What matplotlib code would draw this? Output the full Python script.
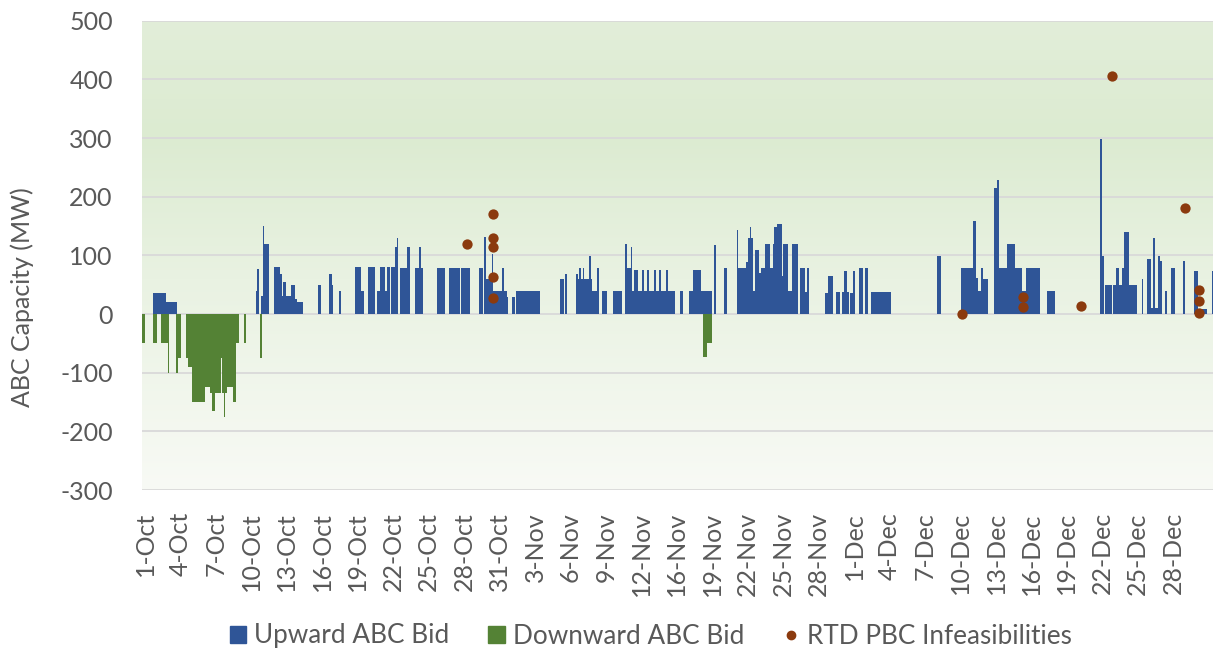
import matplotlib
matplotlib.use("Agg")
import matplotlib.pyplot as plt
from matplotlib.colors import LinearSegmentedColormap
from matplotlib.patches import Patch
from matplotlib.lines import Line2D
import numpy as np

# x is in days after 1-Oct (0 = 1-Oct)
tick_days = list(range(0, 90, 3))
tick_labels = ["1-Oct", "4-Oct", "7-Oct", "10-Oct", "13-Oct", "16-Oct", "19-Oct", "22-Oct",
               "25-Oct", "28-Oct", "31-Oct", "3-Nov", "6-Nov", "9-Nov", "12-Nov", "16-Nov",
               "19-Nov", "22-Nov", "25-Nov", "28-Nov", "1-Dec", "4-Dec", "7-Dec", "10-Dec",
               "13-Dec", "16-Dec", "19-Dec", "22-Dec", "25-Dec", "28-Dec"]

# upward ABC bids: start day, end day, MW
up_start = [0.65, 1.78, 9.36, 9.47, 9.84, 10.01, 10.09, 10.91, 11.42, 11.56, 11.70, 11.93, 12.32,
            12.69, 12.83, 14.66, 15.59, 15.80, 16.44, 17.77, 18.30, 18.84, 19.60, 19.88, 20.30,
            20.45, 20.78, 21.15, 21.29,
            21.57, 22.14, 22.84, 23.21, 23.33, 24.68, 25.72, 26.43, 26.73, 28.26, 28.65, 28.82,
            29.33, 29.47, 30.23, 30.35, 30.60, 31.02, 31.41, 35.11, 35.53, 36.44, 36.61, 36.75,
            36.86, 37.03, 37.14, 37.56, 37.71, 37.79, 38.21, 38.69, 39.62, 40.61, 40.75, 41.09,
            41.23, 41.40, 41.68, 42.07, 42.24, 42.50, 42.67, 43.06, 43.23, 43.51, 43.65, 44.05,
            44.22, 45.26, 46.05, 46.33, 47.04, 47.24, 48.17, 49.01,
            50.06, 50.20, 50.85, 51.02, 51.18, 51.29, 51.46, 51.58, 51.92, 52.09, 52.45, 52.88,
            53.10, 53.24, 53.49, 53.87, 54.00, 54.42, 54.71, 54.99, 55.41, 55.84, 56.03, 57.56,
            57.76, 58.43, 58.97, 59.14, 59.37, 59.64, 59.87, 60.43, 60.89, 61.39, 67.03,
            69.04, 70.08, 70.28, 70.50, 70.70, 70.87, 71.85, 72.05, 72.25, 72.90, 73.60, 73.69,
            74.20, 74.50, 76.34, 80.80, 81.00, 81.22, 81.87, 82.15, 82.38, 82.63, 82.85, 83.25,
            84.35, 84.80, 85.08, 85.25, 85.42, 85.70, 85.87, 86.29, 86.78, 87.84, 88.75, 89.06,
            90.25]
up_end = [1.78, 2.73, 9.47, 9.64, 10.01, 10.09, 10.46, 11.42, 11.56, 11.70, 11.93, 12.32, 12.69,
          12.83, 13.34, 14.89, 15.80, 15.88, 16.58, 18.30, 18.53, 19.48, 19.88, 20.30, 20.45,
          20.73, 21.15, 21.29, 21.43,
          22.14, 22.42, 23.21, 23.33, 23.55, 25.38, 26.37, 26.65, 27.50, 28.62, 28.82, 29.33,
          29.47, 30.23, 30.35, 30.60, 30.75, 31.30, 33.42, 35.45, 35.68, 36.61, 36.75, 36.86,
          37.03, 37.14, 37.56, 37.71, 37.79, 38.21, 38.38, 39.11, 40.33, 40.75, 41.09, 41.23,
          41.40, 41.68, 42.07, 42.24, 42.50, 42.67, 43.06, 43.23, 43.51, 43.65, 44.05, 44.22,
          44.84, 45.54, 46.33, 47.04, 47.24, 47.94, 48.31, 49.21,
          50.20, 50.85, 51.02, 51.18, 51.29, 51.46, 51.58, 51.92, 52.09, 52.45, 52.88, 53.10,
          53.24, 53.49, 53.87, 54.00, 54.42, 54.71, 54.99, 55.27, 55.84, 56.03, 56.20, 57.76,
          58.18, 58.80, 59.14, 59.37, 59.59, 59.87, 60.10, 60.77, 61.19, 63.09, 67.37,
          70.08, 70.28, 70.50, 70.70, 70.87, 71.29, 72.05, 72.25, 72.90, 73.60, 73.69, 74.20,
          74.50, 75.72, 77.01, 81.00, 81.13, 81.78, 82.15, 82.38, 82.63, 82.85, 83.25, 83.90,
          84.46, 85.08, 85.25, 85.42, 85.70, 85.87, 86.07, 86.49, 87.14, 88.01, 89.06, 89.82,
          90.36]
up_mw = [35, 21, 40, 76, 30, 150, 120, 80, 69, 30, 55, 30, 50,
         25, 21, 50, 69, 50, 40, 80, 40, 80, 40, 80, 40,
         80, 80, 114, 130,
         79, 114, 79, 114, 79, 79, 79, 79, 79, 79, 132, 60,
         103, 39, 79, 39, 29, 29, 39, 60, 68, 68, 60, 79,
         60, 79, 60, 99, 60, 39, 79, 39, 39, 120, 79, 114,
         39, 75, 39, 75, 39, 75, 39, 75, 39, 75, 39, 75,
         39, 39, 39, 75, 39, 39, 118, 79,
         144, 79, 89, 130, 149, 130, 40, 109, 70, 79, 119, 79,
         119, 149, 154, 65, 119, 40, 119, 119, 79, 38, 79, 35,
         64, 38, 38, 74, 38, 35, 74, 79, 79, 38, 99,
         79, 158, 61, 39, 79, 60, 215, 229, 79, 120, 79, 79,
         39, 79, 39, 298, 99, 50, 50, 79, 50, 79, 140, 50,
         60, 94, 10, 129, 10, 99, 91, 39, 79, 90, 74, 9,
         74]

# downward ABC bids
down_start = [-0.25, 0.65, 1.33, 1.92, 2.62, 2.80, 3.47, 3.66, 3.95, 5.08, 5.50, 5.67, 5.92,
              6.40, 6.51, 6.68, 6.80, 6.91, 7.42, 7.70, 8.38, 8.60, 9.73, 47.24, 47.52]
down_end = [0.00, 1.04, 1.92, 2.06, 2.80, 3.02, 3.66, 3.95, 5.08, 5.50, 5.67, 5.92, 6.40,
            6.51, 6.68, 6.80, 6.91, 7.42, 7.70, 7.98, 8.52, 8.67, 9.92, 47.52, 47.94]
down_mw = [-50, -50, -50, -100, -100, -75, -75, -90, -150, -125, -135, -165, -135,
           -75, -135, -175, -135, -125, -150, -50, -50, -75, -75, -73, -49]

# RTD PBC infeasibilities
infeas_day = [27.22, 29.41, 29.41, 29.41, 29.41, 29.41, 69.09, 74.25, 74.25, 79.16, 81.81,
              88.01, 89.14, 89.14, 89.14]
infeas_mw = [119, 170, 129, 115, 63, 27, 0, 29, 12, 13, 406, 180, 41, 22, 2]

text_col = "#595959"
plt.rcParams["font.family"] = ["Lato", "DejaVu Sans"]
plt.rcParams["axes.unicode_minus"] = False

W, H = 1213, 654
fig = plt.figure(figsize=(W / 100, H / 100), dpi=100)
ax = fig.add_axes([142 / W, 1 - 490 / H, (1213 - 142) / W, (490 - 20.7) / H])

# gradient background of the plot area
grad = LinearSegmentedColormap.from_list(
    "bg", [(0.0, "#f8faf5"), (0.45, "#e9f2e2"), (0.75, "#dcebd1"), (1.0, "#e2eed9")])
ax.imshow(np.linspace(0, 1, 256).reshape(-1, 1), cmap=grad, aspect="auto",
          extent=[0, 1, 0, 1], transform=ax.transAxes, origin="lower", zorder=0)

for v in range(-300, 501, 100):
    ax.axhline(v, color="#d9d9d9", linewidth=1.3, zorder=1)

up_w = [e - s for s, e in zip(up_start, up_end)]
down_w = [e - s for s, e in zip(down_start, down_end)]
ax.bar(up_start, up_mw, width=up_w, align="edge", color="#2f5597", linewidth=0, zorder=2)
ax.bar(down_start, down_mw, width=down_w, align="edge", color="#548235", linewidth=0, zorder=2)
ax.scatter(infeas_day, infeas_mw, s=55, color="#8b3a0e", linewidths=0, zorder=3)

ax.set_xlim(-0.25, 90.36)
ax.set_ylim(-300, 500)
ax.set_yticks(range(-300, 501, 100))
ax.set_xticks(tick_days)
ax.set_xticklabels(tick_labels, rotation=90)
ax.tick_params(axis="both", length=0, labelsize=18, labelcolor=text_col)
ax.tick_params(axis="y", pad=21)
ax.tick_params(axis="x", pad=16)
for s in ax.spines.values():
    s.set_visible(False)

fig.text(22 / W, 1 - 297 / H, "ABC Capacity (MW)", rotation=90, ha="center", va="center",
         fontsize=18, color=text_col)

handles = [Patch(color="#2f5597"), Patch(color="#548235"),
           Line2D([], [], linestyle="none", marker="o", markersize=6, color="#8b3a0e")]
fig.legend(handles, ["Upward ABC Bid", "Downward ABC Bid", "RTD PBC Infeasibilities"],
           loc="center", bbox_to_anchor=(651 / W, 1 - 636 / H), ncol=3, frameon=False,
           fontsize=18.8, labelcolor=text_col, handlelength=0.62, handleheight=0.62,
           handletextpad=0.3, columnspacing=1.5)

fig.savefig("out.png", dpi=100)
